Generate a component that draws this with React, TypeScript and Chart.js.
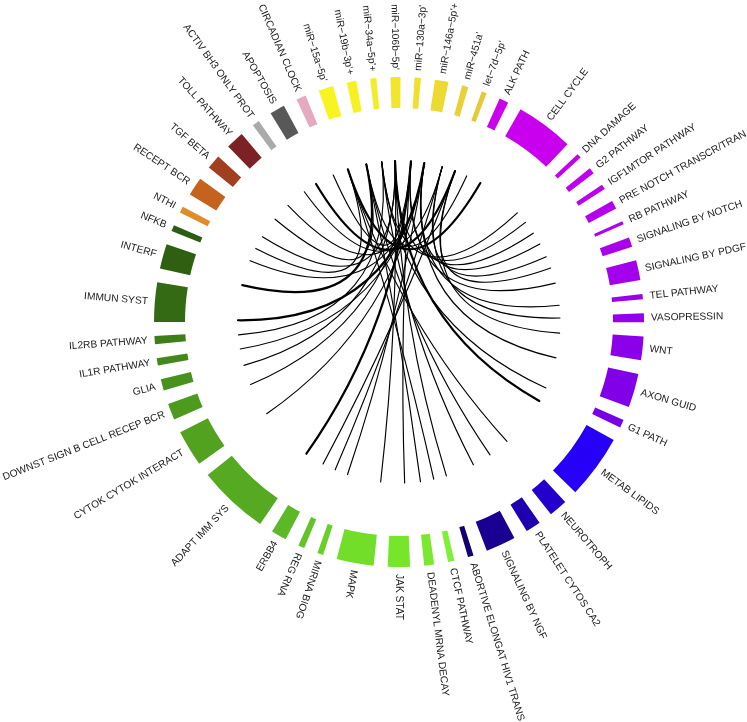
import React, { useEffect, useRef } from "react";
import { Chart, registerables } from "chart.js";

Chart.register(...registerables);

// ---- sectors, clockwise starting at ALK PATH ----
const sectorNames = [
  "ALK PATH", "CELL CYCLE", "DNA DAMAGE", "G2 PATHWAY", "IGF1MTOR PATHWAY",
  "PRE NOTCH TRANSCR/TRAN", "RB PATHWAY", "SIGNALING BY NOTCH", "SIGNALING BY PDGF",
  "TEL PATHWAY", "VASOPRESSIN", "WNT", "AXON GUID", "G1 PATH", "METAB LIPIDS",
  "NEUROTROPH", "PLATELET CYTOS CA2", "SIGNALING BY NGF", "ABORTIVE ELONGAT HIV1 TRANS",
  "CTCF PATHWAY", "DEADENYL MRNA DECAY", "JAK STAT", "MAPK", "MIRNA BIOG", "REG RNA",
  "ERBB4", "ADAPT IMM SYS", "CYTOK CYTOK INTERACT", "DOWNST SIGN B CELL RECEP BCR",
  "GLIA", "IL1R PATHWAY", "IL2RB PATHWAY", "IMMUN SYST", "INTERF", "NFKB", "NTHI",
  "RECEPT BCR", "TGF BETA", "TOLL PATHWAY", "ACTIV BH3 ONLY PROT", "APOPTOSIS",
  "CIRCADIAN CLOCK", "miR\u221215a\u22125p'", "miR\u221219b\u22123p'+", "miR\u221234a\u22125p'+",
  "miR\u2212106b\u22125p'", "miR\u2212130a\u22123p'", "miR\u2212146a\u22125p'+", "miR\u2212451a'",
  "let\u22127d\u22125p'",
];

const sectorSizes = [
  2.2, 13.7, 1.1, 1.45, 1.2,
  2.0, 0.8, 2.3, 4.7,
  1.25, 2.1, 5.6, 8.0, 1.9, 15.2,
  4.4, 3.6, 7.1, 1.35,
  1.5, 2.35, 5.25, 8.8, 1.4, 1.5,
  3.65, 16.85, 8.6, 3.9,
  2.7, 1.75, 1.9, 9.3, 5.85, 1.5, 1.5,
  4.4, 3.4, 4.3, 1.7, 3.6,
  2.3, 3.5, 2.25, 1.45,
  2.35, 1.5, 3.2, 1.5,
  1.2,
];

const sectorColors = [
  "#cc00ee", "#c800ee", "#c300ee", "#bf00ee", "#ba00ed",
  "#b500ed", "#b000ec", "#aa00ec", "#a300eb",
  "#9c00ea", "#9500ea", "#8c00e9", "#8200e8", "#7800e7", "#2600f6",
  "#2400cc", "#1f00b0", "#1a0090", "#140070",
  "#7fef38", "#79e82e", "#77e52a", "#72de2a", "#68d028", "#62c428",
  "#5cb826", "#56aa22", "#52a220", "#4c9a1e",
  "#47921c", "#42881a", "#3d7e18", "#356a14", "#2f6012", "#2e5c12", "#e08c28",
  "#c4621e", "#a0401e", "#7c2126", "#aaaaaa", "#585858",
  "#e4aabf", "#f8f422", "#f6f024", "#f4ec28",
  "#f1e52e", "#efe030", "#ecd932", "#e9d034",
  "#e6c936",
];

const GAP = 3.3;
const START_ANGLE = 24.25;

// ---- links: miRNA -> target sector ----
const linkMiRNA = [
  "miR\u221215a\u22125p'", "miR\u221219b\u22123p'+", "miR\u221234a\u22125p'+", "miR\u2212106b\u22125p'",
  "miR\u2212130a\u22123p'", "miR\u2212146a\u22125p'+", "miR\u2212451a'", "let\u22127d\u22125p'",
  "miR\u2212130a\u22123p'", "miR\u2212146a\u22125p'+", "miR\u2212451a'", "let\u22127d\u22125p'",
  "miR\u2212146a\u22125p'+", "miR\u221234a\u22125p'+", "miR\u2212106b\u22125p'", "miR\u221215a\u22125p'",
  "miR\u221219b\u22123p'+", "miR\u221234a\u22125p'+", "miR\u2212106b\u22125p'", "miR\u221215a\u22125p'",
  "miR\u221219b\u22123p'+", "miR\u2212130a\u22123p'", "miR\u2212106b\u22125p'", "miR\u2212146a\u22125p'+",
  "miR\u2212451a'", "let\u22127d\u22125p'", "miR\u2212130a\u22123p'", "miR\u2212146a\u22125p'+",
  "miR\u2212130a\u22123p'", "miR\u2212106b\u22125p'", "miR\u2212146a\u22125p'+", "miR\u221234a\u22125p'+",
  "miR\u2212146a\u22125p'+", "miR\u221219b\u22123p'+", "miR\u2212146a\u22125p'+", "miR\u221215a\u22125p'",
  "miR\u2212106b\u22125p'", "miR\u221219b\u22123p'+", "miR\u2212146a\u22125p'+", "miR\u2212451a'",
  "let\u22127d\u22125p'", "miR\u2212130a\u22123p'",
];

const linkTarget = [
  "CELL CYCLE", "ALK PATH", "DNA DAMAGE", "G2 PATHWAY",
  "IGF1MTOR PATHWAY", "PRE NOTCH TRANSCR/TRAN", "RB PATHWAY", "SIGNALING BY NOTCH",
  "SIGNALING BY PDGF", "TEL PATHWAY", "VASOPRESSIN", "WNT",
  "AXON GUID", "G1 PATH", "METAB LIPIDS", "NEUROTROPH",
  "PLATELET CYTOS CA2", "SIGNALING BY NGF", "ABORTIVE ELONGAT HIV1 TRANS", "CTCF PATHWAY",
  "DEADENYL MRNA DECAY", "JAK STAT", "MAPK", "MIRNA BIOG",
  "REG RNA", "ERBB4", "ADAPT IMM SYS", "CYTOK CYTOK INTERACT",
  "DOWNST SIGN B CELL RECEP BCR", "GLIA", "IL1R PATHWAY", "IL2RB PATHWAY",
  "IMMUN SYST", "INTERF", "NFKB", "NTHI",
  "RECEPT BCR", "TGF BETA", "TOLL PATHWAY", "ACTIV BH3 ONLY PROT",
  "APOPTOSIS", "CIRCADIAN CLOCK",
];

const linkWeight = [
  2, 1, 1, 1,
  1, 1, 1, 1,
  1, 1, 1, 1,
  1, 1, 2, 1,
  1, 1, 1, 1,
  1, 1, 1, 1,
  1, 1, 2, 1,
  1, 1, 1, 1,
  2, 2, 1, 1,
  1, 1, 1, 1,
  2, 1,
];

const RING_OUTER = 245;
const RING_INNER = 214;
const LINK_RATIO = 161 / 214;
const LABEL_GAP = 7;
const FLIP_FROM = 206;
const LABEL_FONT = "10.2px 'Liberation Sans', Arial, Helvetica, sans-serif";

const DEG = Math.PI / 180;

const chordPlugin = {
  id: "chordLinks",
  afterDatasetsDraw(chart: any) {
    const meta = chart.getDatasetMeta(0);
    const ctx = chart.ctx as CanvasRenderingContext2D;
    const anchor = (name: string) => {
      const idx = sectorNames.indexOf(name);
      const arc = meta.data[idx * 2];
      const p = arc.getProps(["startAngle", "endAngle", "x", "y", "innerRadius"], true);
      const a = p.startAngle + Math.min((p.endAngle - p.startAngle) / 2, 0.6 * DEG);
      const r = p.innerRadius * LINK_RATIO;
      return { x: p.x + r * Math.cos(a), y: p.y + r * Math.sin(a), cx: p.x, cy: p.y };
    };
    ctx.save();
    ctx.strokeStyle = "#000000";
    ctx.lineCap = "round";
    for (let i = 0; i < linkTarget.length; i++) {
      const a = anchor(linkMiRNA[i]);
      const b = anchor(linkTarget[i]);
      ctx.lineWidth = linkWeight[i] > 1 ? 2.2 : 1.15;
      ctx.beginPath();
      ctx.moveTo(b.x, b.y);
      ctx.quadraticCurveTo(a.cx, a.cy, a.x, a.y);
      ctx.stroke();
    }
    ctx.restore();
  },
  afterDraw(chart: any) {
    const meta = chart.getDatasetMeta(0);
    const ctx = chart.ctx as CanvasRenderingContext2D;
    ctx.save();
    ctx.font = LABEL_FONT;
    ctx.fillStyle = "#1a1a1a";
    ctx.textBaseline = "middle";
    for (let i = 0; i < sectorNames.length; i++) {
      const arc = meta.data[i * 2];
      const p = arc.getProps(["startAngle", "endAngle", "x", "y", "outerRadius"], true);
      const mid = (p.startAngle + p.endAngle) / 2;
      let compass = (mid / DEG + 90) % 360;
      if (compass < 0) compass += 360;
      const r = p.outerRadius + LABEL_GAP;
      ctx.save();
      ctx.translate(p.x, p.y);
      ctx.rotate(mid);
      if (compass > FLIP_FROM) {
        ctx.rotate(Math.PI);
        ctx.textAlign = "right";
        ctx.fillText(sectorNames[i], -r, 0);
      } else {
        ctx.textAlign = "left";
        ctx.fillText(sectorNames[i], r, 0);
      }
      ctx.restore();
    }
    ctx.restore();
  },
};

export default function App() {
  const canvasRef = useRef<HTMLCanvasElement | null>(null);

  useEffect(() => {
    if (!canvasRef.current) return;
    const data: number[] = [];
    const colors: string[] = [];
    for (let i = 0; i < sectorSizes.length; i++) {
      data.push(sectorSizes[i], GAP);
      colors.push(sectorColors[i], "rgba(0,0,0,0)");
    }
    const chart = new Chart(canvasRef.current, {
      type: "doughnut",
      data: {
        labels: data.map((_, i) => (i % 2 === 0 ? sectorNames[i / 2] : "")),
        datasets: [
          {
            data,
            backgroundColor: colors,
            borderWidth: 0,
            hoverOffset: 0,
          } as any,
        ],
      },
      options: {
        responsive: false,
        animation: false,
        events: [],
        rotation: START_ANGLE,
        cutout: `${(RING_INNER / RING_OUTER) * 100}%`,
        radius: RING_OUTER,
        layout: { padding: { left: 101, right: 50, top: 50, bottom: 128 } },
        plugins: {
          legend: { display: false },
          tooltip: { enabled: false },
        },
      } as any,
      plugins: [chordPlugin],
    });
    return () => chart.destroy();
  }, []);

  return (
    <div style={{ position: "absolute", left: 0, top: 0, width: 747, height: 722, background: "#ffffff" }}>
      <canvas ref={canvasRef} width={747} height={722} style={{ display: "block" }} />
    </div>
  );
}
